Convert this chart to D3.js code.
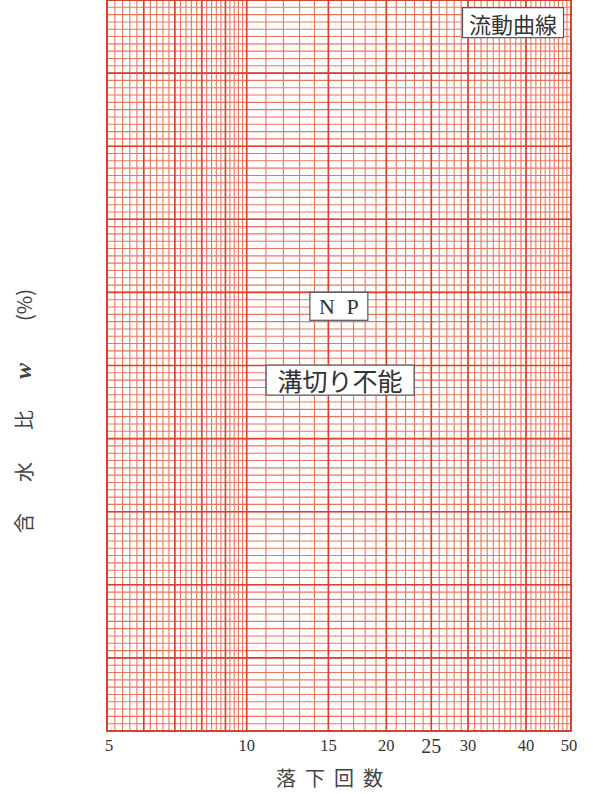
<!DOCTYPE html>
<html>
<head>
<meta charset="utf-8">
<script src="https://cdn.jsdelivr.net/npm/d3@7"></script>
<style>
  body { margin: 0; background: #fff; }
  svg { display: block; }
</style>
</head>
<body>
<script>
  // tick labels along the bottom (drop count, log scale)
  const xTickLabels = [5, 10, 15, 20, 25, 30, 40, 50];
  // heavier vertical rules of the paper
  const xMajor = [5, 6, 7, 8, 9, 10, 15, 20, 25, 30, 40, 50];
  // finer vertical rules: 0.2 steps below 10, 1 steps above
  const xMinor = d3.range(5, 10, 0.2).concat(d3.range(10, 50, 1));
  // water content axis has no numbers, only a 100-step grid
  const yMinor = d3.range(0, 101, 1);
  const yMajor = d3.range(0, 101, 10);

  // boxed notes: centre given in data units (drops, grid step)
  const notes = [
    { text: "流動曲線", x: 37.5, y: 96.9, size: 22, font: "'Noto Sans CJK JP'", w: 101, h: 30, spacing: 0 },
    { text: "N P", x: 15.8, y: 58.1, size: 22, font: "'Liberation Serif', serif", w: 58, h: 28, spacing: 3 },
    { text: "溝切り不能", x: 15.9, y: 48.0, size: 25, font: "'Noto Sans CJK JP'", w: 148, h: 30, spacing: 0 }
  ];

  // y title pieces, top to bottom along the rotated axis
  const yTitle = [
    { t: "(%)", pos: 305, serif: false },
    { t: "w", pos: 371, serif: true },
    { t: "比", pos: 420, serif: false },
    { t: "水", pos: 472, serif: false },
    { t: "含", pos: 523, serif: false }
  ];

  const W = 593, H = 794;
  const mLeft = 107, mRight = 571, mTop = 0, mBottom = 731;

  const svg = d3.select("body").append("svg")
    .attr("width", W).attr("height", H);

  const x = d3.scaleLog().domain([5, 50]).range([mLeft, mRight]);
  const y = d3.scaleLinear().domain([0, 100]).range([mBottom, mTop]);

  const grid = svg.append("g");

  grid.selectAll(".vmin").data(xMinor).enter().append("line")
    .attr("x1", d => x(d)).attr("x2", d => x(d))
    .attr("y1", mTop).attr("y2", mBottom)
    .attr("stroke", "#e8765c").attr("stroke-width", 1.1);

  grid.selectAll(".hmin").data(yMinor).enter().append("line")
    .attr("x1", mLeft).attr("x2", mRight)
    .attr("y1", d => y(d)).attr("y2", d => y(d))
    .attr("stroke", "#e8765c").attr("stroke-width", 1.1);

  grid.selectAll(".vmaj").data(xMajor).enter().append("line")
    .attr("x1", d => x(d)).attr("x2", d => x(d))
    .attr("y1", mTop).attr("y2", mBottom)
    .attr("stroke", "#d9432b").attr("stroke-width", 1.6);

  grid.selectAll(".hmaj").data(yMajor).enter().append("line")
    .attr("x1", mLeft).attr("x2", mRight)
    .attr("y1", d => y(d)).attr("y2", d => y(d))
    .attr("stroke", "#d9432b").attr("stroke-width", 1.6);

  // border
  grid.append("rect")
    .attr("x", mLeft).attr("y", mTop)
    .attr("width", mRight - mLeft).attr("height", mBottom - mTop)
    .attr("fill", "none").attr("stroke", "#d6402a").attr("stroke-width", 1.8);

  // x tick labels
  svg.selectAll(".xlab").data(xTickLabels).enter().append("text")
    .attr("x", d => x(d) + (d === 5 ? 2 : d === 50 ? -2 : 0))
    .attr("y", d => d === 25 ? 753 : 751)
    .attr("text-anchor", "middle")
    .attr("font-family", "'Liberation Serif', serif")
    .attr("font-size", d => d === 25 ? 20 : 16.5)
    .attr("fill", "#333")
    .text(d => d);

  // axis titles
  svg.append("text")
    .attr("x", 334).attr("y", 786)
    .attr("text-anchor", "middle")
    .attr("font-family", "'Noto Sans CJK JP'")
    .attr("font-size", 20)
    .attr("letter-spacing", 9)
    .attr("fill", "#444")
    .text("落下回数");

  svg.selectAll(".ytl").data(yTitle).enter().append("text")
    .attr("transform", d => `translate(23,${d.pos}) rotate(-90)`)
    .attr("text-anchor", "middle")
    .attr("dominant-baseline", "central")
    .attr("font-family", d => d.serif ? "'Liberation Serif', serif" : "'Noto Sans CJK JP'")
    .attr("font-style", d => d.serif ? "italic" : "normal")
    .attr("font-weight", d => d.serif ? "bold" : "normal")
    .attr("font-size", d => d.serif ? 24 : 20)
    .attr("fill", "#444")
    .text(d => d.t);

  // annotation boxes
  notes.forEach(n => {
    const g = svg.append("g");
    const cx = x(n.x), cy = y(n.y);
    g.append("rect")
      .attr("x", cx - n.w / 2).attr("y", cy - n.h / 2)
      .attr("width", n.w).attr("height", n.h)
      .attr("fill", "#fff").attr("stroke", "#555").attr("stroke-width", 1.2);
    g.append("text")
      .attr("x", cx + n.spacing / 2).attr("y", cy)
      .attr("text-anchor", "middle")
      .attr("dominant-baseline", "central")
      .attr("font-family", n.font)
      .attr("font-size", n.size)
      .attr("letter-spacing", n.spacing)
      .attr("fill", "#333")
      .text(n.text);
  });
</script>
</body>
</html>
